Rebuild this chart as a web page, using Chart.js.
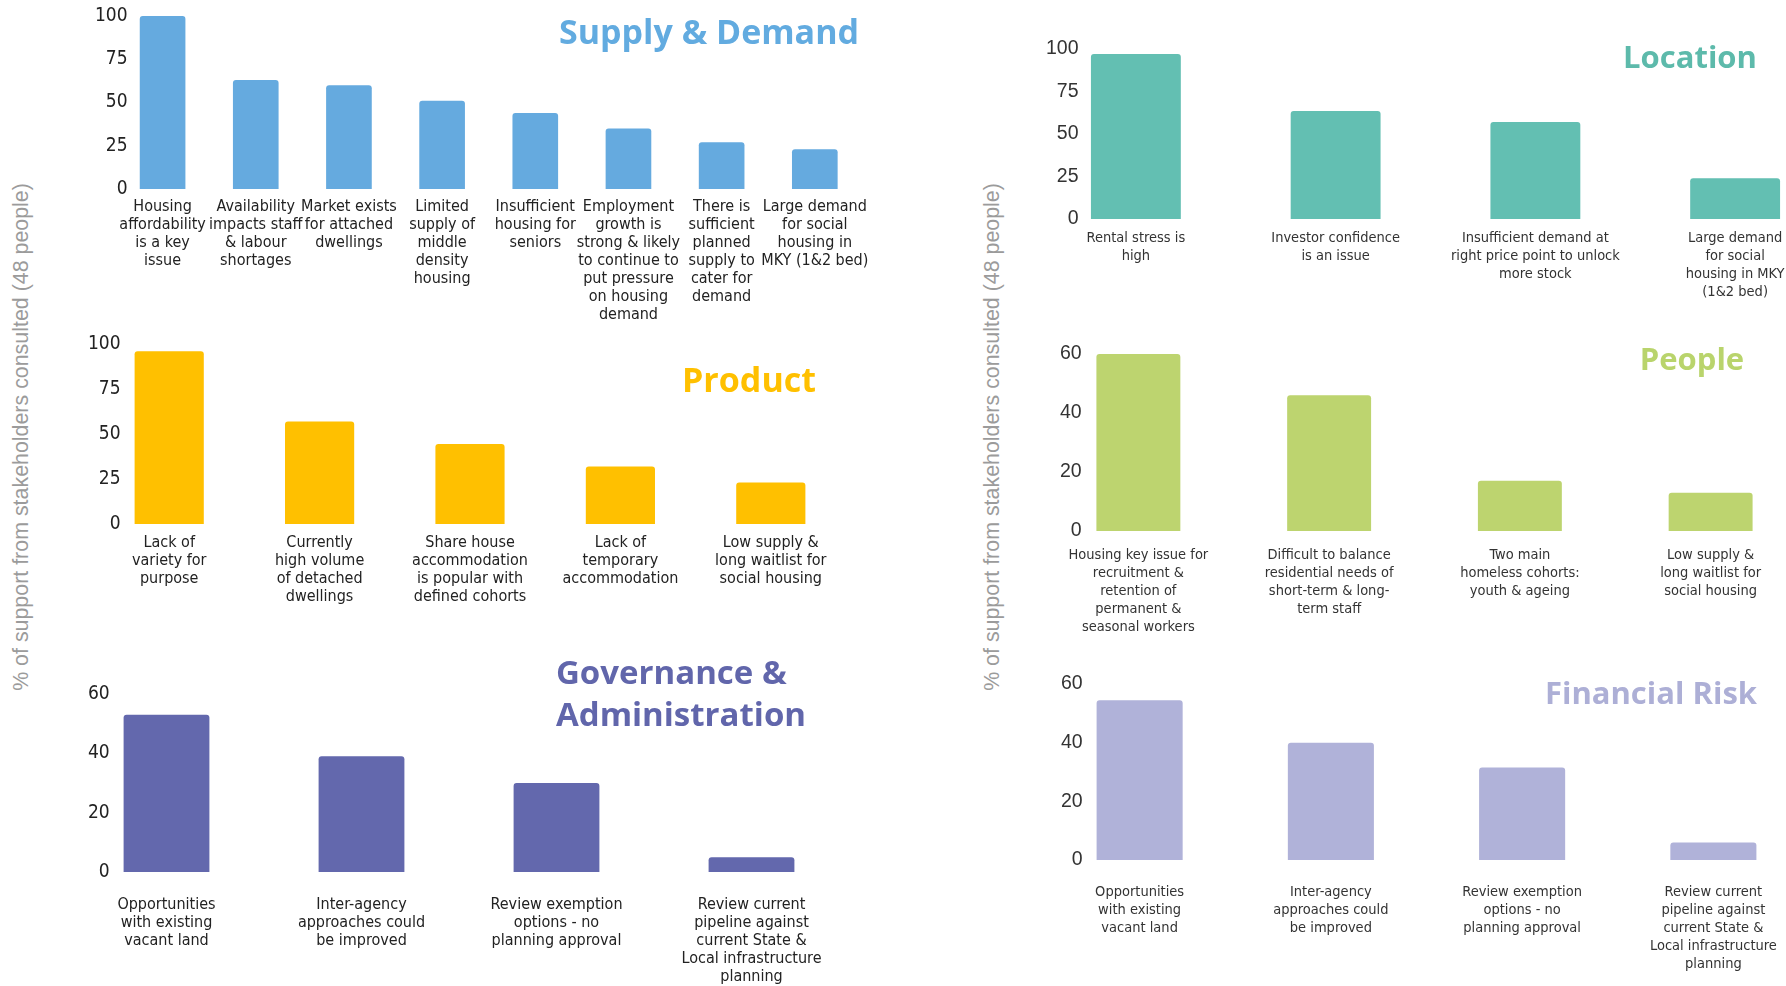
<!DOCTYPE html>
<html>
<head>
<meta charset="utf-8">
<title>Stakeholder support by theme</title>
<script src="https://cdn.jsdelivr.net/npm/chart.js@4.4.1/dist/chart.umd.min.js"></script>
<style>
    html, body { margin: 0; padding: 0; background: #fff; width: 1786px; height: 986px; overflow: hidden; }
    canvas { position: absolute; }
    .panel-title {
        position: absolute;
        transform: translate(-50%, -50%);
        font-family: "Open Sans", "Noto Sans", sans-serif;
        font-weight: 700;
        white-space: nowrap;
        line-height: 42px;
    }
    .axis-title {
        position: absolute;
        transform: translate(-50%, -50%) rotate(-90deg);
        font-family: "Liberation Sans", Arial, sans-serif;
        font-size: 21.4px;
        color: #9b9b9b;
        white-space: nowrap;
    }
</style>
</head>
<body>

<div class="axis-title" style="left:21px; top:437px;">% of support from stakeholders consulted (48 people)</div>
<div class="axis-title" style="left:992px; top:437px;">% of support from stakeholders consulted (48 people)</div>

<canvas id="supplyChart" style="left:56px; top:4px;" width="822" height="335"></canvas>
<canvas id="productChart" style="left:34px; top:332px;" width="822" height="332"></canvas>
<canvas id="govChart" style="left:19px; top:682px;" width="840" height="304"></canvas>
<canvas id="locationChart" style="left:976px; top:37px;" width="869" height="292"></canvas>
<canvas id="peopleChart" style="left:983px; top:342px;" width="833" height="319"></canvas>
<canvas id="financeChart" style="left:984px; top:672px;" width="835" height="314"></canvas>

<div class="panel-title" style="left:709px; top:31px; font-size:34px; color:#62abe0;">Supply &amp; Demand</div>
<div class="panel-title" style="left:749px; top:379px; font-size:34px; color:#ffc000;">Product</div>
<div class="panel-title" style="left:681px; top:693px; font-size:33px; color:#6166ab; text-align:left;">Governance &amp;<br>Administration</div>
<div class="panel-title" style="left:1690px; top:56px; font-size:31px; color:#5dbaab;">Location</div>
<div class="panel-title" style="left:1692px; top:358px; font-size:31px; color:#b9d46c;">People</div>
<div class="panel-title" style="left:1651px; top:692px; font-size:31px; color:#adafd6;">Financial Risk</div>

<script>
// Values (% of 48 stakeholders)
const ticks100 = [0, 25, 50, 75, 100];
const ticks60 = [0, 20, 40, 60];

const supplyLabels = [
    ['Housing', 'affordability', 'is a key', 'issue'],
    ['Availability', 'impacts staff', '& labour', 'shortages'],
    ['Market exists', 'for attached', 'dwellings'],
    ['Limited', 'supply of', 'middle', 'density', 'housing'],
    ['Insufficient', 'housing for', 'seniors'],
    ['Employment', 'growth is', 'strong & likely', 'to continue to', 'put pressure', 'on housing', 'demand'],
    ['There is', 'sufficient', 'planned', 'supply to', 'cater for', 'demand'],
    ['Large demand', 'for social', 'housing in', 'MKY (1&2 bed)']
];
const supplyValues = [100, 63, 60, 51, 44, 35, 27, 23];

const productLabels = [
    ['Lack of', 'variety for', 'purpose'],
    ['Currently', 'high volume', 'of detached', 'dwellings'],
    ['Share house', 'accommodation', 'is popular with', 'defined cohorts'],
    ['Lack of', 'temporary', 'accommodation'],
    ['Low supply &', 'long waitlist for', 'social housing']
];
const productValues = [96, 57, 44.5, 32, 23];

const govLabels = [
    ['Opportunities', 'with existing', 'vacant land'],
    ['Inter-agency', 'approaches could', 'be improved'],
    ['Review exemption', 'options - no', 'planning approval'],
    ['Review current', 'pipeline against', 'current State &', 'Local infrastructure', 'planning']
];
const govValues = [53, 39, 30, 5];

const locationLabels = [
    ['Rental stress is', 'high'],
    ['Investor confidence', 'is an issue'],
    ['Insufficient demand at', 'right price point to unlock', 'more stock'],
    ['Large demand', 'for social', 'housing in MKY', '(1&2 bed)']
];
const locationValues = [97, 63.5, 57, 24];

const peopleLabels = [
    ['Housing key issue for', 'recruitment &', 'retention of', 'permanent &', 'seasonal workers'],
    ['Difficult to balance', 'residential needs of', 'short-term & long-', 'term staff'],
    ['Two main', 'homeless cohorts:', 'youth & ageing'],
    ['Low supply &', 'long waitlist for', 'social housing']
];
const peopleValues = [60, 46, 17, 13];

const financeLabels = [
    ['Opportunities', 'with existing', 'vacant land'],
    ['Inter-agency', 'approaches could', 'be improved'],
    ['Review exemption', 'options - no', 'planning approval'],
    ['Review current', 'pipeline against', 'current State &', 'Local infrastructure', 'planning']
];
const financeValues = [54.5, 40, 31.5, 6];

const narrow = '"Liberation Sans Narrow", "DejaVu Sans Condensed", sans-serif';

function drawPanel(id, labels, values, ticks, o) {
    const ctx = document.getElementById(id).getContext('2d');
    const digits = String(ticks[ticks.length - 1]).length;
    return new Chart(ctx, {
        type: 'bar',
        data: {
            labels: labels,
            datasets: [{
                data: values,
                backgroundColor: o.color,
                borderRadius: { topLeft: 3, topRight: 3 },
                borderSkipped: 'bottom',
                barPercentage: o.bar,
                categoryPercentage: 1
            }]
        },
        options: {
            responsive: false,
            animation: false,
            layout: { padding: { top: 12, right: 10, bottom: 0, left: 0 } },
            plugins: {
                legend: { display: false },
                tooltip: { enabled: false }
            },
            scales: {
                x: {
                    grid: { display: false, drawTicks: false },
                    border: { display: false },
                    ticks: {
                        autoSkip: false,
                        maxRotation: 0,
                        minRotation: 0,
                        padding: o.xPad,
                        color: o.labelColor,
                        font: o.labelFont
                    },
                    afterFit: s => { s.height = o.xh; }
                },
                y: {
                    min: 0,
                    max: ticks[ticks.length - 1],
                    grid: { display: false, drawTicks: false },
                    border: { display: false },
                    afterBuildTicks: s => { s.ticks = ticks.map(v => ({ value: v })); },
                    ticks: {
                        // labels sit over the gap left of the first bar, so mirror them
                        // and pad with figure spaces to keep them right aligned
                        mirror: true,
                        padding: o.yPad,
                        color: o.tickColor,
                        font: o.tickFont,
                        callback: v => String(v).padStart(digits, '\u2007')
                    },
                    afterFit: s => {
                        s.width = o.yw;
                        s.paddingTop = 0;
                        s.paddingBottom = 0;
                    }
                }
            }
        }
    });
}

const leftLabelFont = { family: narrow, size: 16, lineHeight: 1.125 };
const leftTickFont = { family: narrow, size: 19 };
const rightLabelFont = { family: narrow, size: 14.5, lineHeight: 18 / 14.5 };
const rightTickFont = { family: '"Liberation Sans", sans-serif', size: 19.5 };

document.addEventListener('DOMContentLoaded', () => {
    drawPanel('supplyChart', supplyLabels, supplyValues, ticks100, {
        color: '#65aadf', bar: 0.49, yw: 60, yPad: -21, xh: 150, xPad: 9,
        labelColor: '#222', labelFont: leftLabelFont, tickColor: '#222', tickFont: leftTickFont
    });
    drawPanel('productChart', productLabels, productValues, ticks100, {
        color: '#ffc000', bar: 0.46, yw: 60, yPad: -6, xh: 140, xPad: 10,
        labelColor: '#222', labelFont: leftLabelFont, tickColor: '#222', tickFont: leftTickFont
    });
    drawPanel('govChart', govLabels, govValues, ticks60, {
        color: '#6368ad', bar: 0.44, yw: 50, yPad: 19, xh: 114, xPad: 24,
        labelColor: '#222', labelFont: leftLabelFont, tickColor: '#222', tickFont: leftTickFont
    });
    drawPanel('locationChart', locationLabels, locationValues, ticks100, {
        color: '#63bfb2', bar: 0.45, yw: 60, yPad: 10, xh: 110, xPad: 10,
        labelColor: '#333', labelFont: rightLabelFont, tickColor: '#333', tickFont: rightTickFont
    });
    drawPanel('peopleChart', peopleLabels, peopleValues, ticks60, {
        color: '#bdd46f', bar: 0.44, yw: 60, yPad: 17, xh: 130, xPad: 15,
        labelColor: '#333', labelFont: rightLabelFont, tickColor: '#333', tickFont: rightTickFont
    });
    drawPanel('financeChart', financeLabels, financeValues, ticks60, {
        color: '#b0b2d9', bar: 0.45, yw: 60, yPad: 17, xh: 126, xPad: 23,
        labelColor: '#333', labelFont: rightLabelFont, tickColor: '#333', tickFont: rightTickFont
    });
});
</script>
</body>
</html>
